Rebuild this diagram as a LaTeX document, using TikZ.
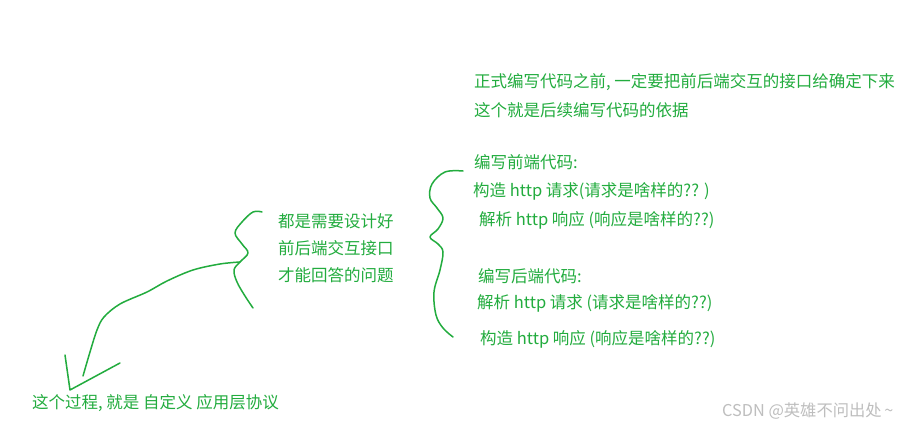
\documentclass[tikz,border=0pt]{standalone}
\usepackage{fontspec}
\setmainfont{Noto Sans CJK SC}
\definecolor{pen}{RGB}{34,172,62}
\definecolor{mark}{RGB}{190,190,190}
\tikzset{
  txt/.style={anchor=west, inner sep=0pt, text=pen, font=\fontsize{16.5}{19}\selectfont},
  stroke/.style={draw=pen, line width=1.5pt, line cap=round, line join=round},
  wm/.style={anchor=west, inner sep=0pt, text=mark, font=\fontsize{16.3}{18}\selectfont}
}
\begin{document}
\begin{tikzpicture}[x=1pt,y=-1pt]
\useasboundingbox[fill=white] (0,0) rectangle (914,427);
% top notes
\node[txt] (n1) at (474,82) {正式编写代码之前, 一定要把前后端交互的接口给确定下来};
\node[txt] (n2) at (474,110) {这个就是后续编写代码的依据};
% right column
\node[txt] (f0) at (474,162) {编写前端代码:};
\node[txt] (f1) at (473,191) {构造 http 请求(请求是啥样的?? )};
\node[txt] (f2) at (479,220) {解析 http 响应 (响应是啥样的??)};
\node[txt] (b0) at (478,276) {编写后端代码:};
\node[txt] (b1) at (477,303) {解析 http 请求 (请求是啥样的??)};
\node[txt] (b2) at (480,339) {构造 http 响应 (响应是啥样的??)};
% middle column
\node[txt] (m1) at (278,221) {都是需要设计好};
\node[txt] (m2) at (278,248) {前后端交互接口};
\node[txt] (m3) at (278,275) {才能回答的问题};
% bottom
\node[txt] (bt) at (32,403) {这个过程, 就是 自定义 应用层协议};
\node[wm] (wm) at (722,411) {CSDN @英雄不问出处\,\char`\~};
% right brace
\draw[stroke] plot[smooth, tension=0.6] coordinates {(463,171) (445,172) (432,184) (430,198) (437,208) (443,218) (438,229) (430,237) (438,244) (443,252) (440,270) (434,292) (436,315) (443,328) (453,337)};
% middle brace
\coordinate (mb) at (240,262);
\draw[stroke] plot[smooth, tension=0.6] coordinates {(262,212) (253,212) (242,222) (235,233) (242,244) (248,253) (mb) (234,270) (237,282) (245,296) (253,308)};
% arrow from brace to bottom text
\coordinate (tip) at (70,390);
\draw[stroke] plot[smooth, tension=0.55] coordinates {(mb) (220,264) (193,270) (167,281) (147,292) (120,304) (104,317) (97,330) (90,352) (83,376)};
\draw[stroke] (65,355) -- (tip) -- (120,363);
\end{tikzpicture}
\end{document}
